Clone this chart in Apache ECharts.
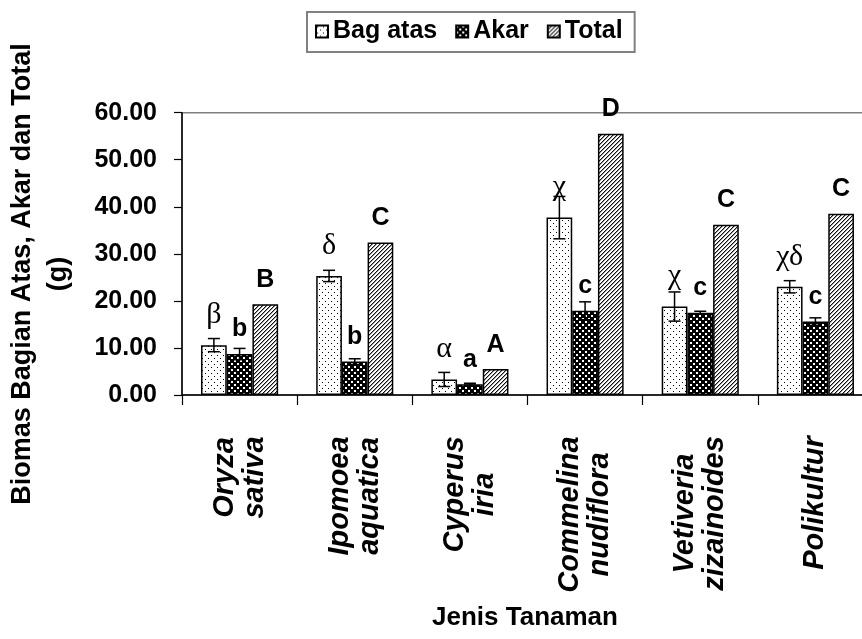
<!DOCTYPE html>
<html>
<head>
<meta charset="utf-8">
<script src="https://cdn.jsdelivr.net/npm/echarts@6/dist/echarts.min.js"></script>
<style>
  html, body { margin: 0; padding: 0; background: #fff; }
  #chart { width: 862px; height: 639px; }
</style>
</head>
<body>
<div id="chart"></div>
<script>
// Plant species (two-line, italic) on the category axis
const categories = ['Oryza\nsativa', 'Ipomoea\naquatica', 'Cyperus\niria', 'Commelina\nnudiflora', 'Vetiveria\nzizainoides', 'Polikultur'];

// Biomass in grams
const bagAtas    = [10.6, 25.3, 3.3, 37.7, 18.8, 23.0];
const bagAtasErr = [1.4, 1.2, 1.5, 4.5, 3.1, 1.3];
const akar       = [8.7, 7.1, 2.3, 17.9, 17.5, 15.6];
const akarErr    = [1.2, 0.6, 0.2, 1.9, 0.3, 0.8];
const total      = [19.3, 32.4, 5.5, 55.5, 36.2, 38.5];

// Significance letters above the bars
const bagAtasLetters = ['β', 'δ', 'α', 'χ', 'χ', 'χδ'];
const akarLetters    = ['b', 'b', 'a', 'c', 'c', 'c'];
const totalLetters   = ['B', 'C', 'A', 'D', 'C', 'C'];

// Y axis ticks
const yMin = 0, yMax = 60, yStep = 10;

const SANS = '"Liberation Sans", Arial, sans-serif';
const SERIF = '"Liberation Serif", "Times New Roman", serif';
const BAR_W = 25.7;

// ---- fill patterns drawn on small tiles ----
function tile(size, draw) {
  const c = document.createElement('canvas');
  c.width = c.height = size;
  const g = c.getContext('2d');
  g.fillStyle = '#fff';
  g.fillRect(0, 0, size, size);
  draw(g, size);
  return c;
}
const dotTile = tile(6, g => {
  g.fillStyle = '#000';
  g.fillRect(1, 1, 1, 1);
  g.fillRect(4, 4, 1, 1);
});
const checkTile = tile(6, g => {
  g.fillStyle = '#000';
  g.fillRect(0, 0, 6, 6);
  g.fillStyle = '#fff';
  g.fillRect(0, 0, 2, 2);
  g.fillRect(3, 3, 2, 2);
});
const hatchTile = tile(4, g => {
  for (let i = 0; i < 4; i++) {
    g.fillStyle = '#111';
    g.fillRect(i, 3 - i, 1, 1);
    g.fillStyle = '#999';
    g.fillRect(i, (4 - i) % 4, 1, 1);
  }
});
const dotFill = { image: dotTile, repeat: 'repeat' };
const checkFill = { image: checkTile, repeat: 'repeat' };
const hatchFill = { image: hatchTile, repeat: 'repeat' };

// ---- category labels: lines centred on each other ----
const CAT_FONT_SIZE = 29;
const measureCtx = document.createElement('canvas').getContext('2d');
measureCtx.font = 'italic bold ' + CAT_FONT_SIZE + 'px ' + SANS;
const catRich = {};
categories.forEach((c, i) => {
  const w = Math.max(...c.split('\n').map(s => measureCtx.measureText(s).width));
  catRich['c' + i] = {
    width: Math.ceil(w) + 2,
    align: 'center',
    fontSize: CAT_FONT_SIZE,
    fontWeight: 'bold',
    fontStyle: 'italic',
    fontFamily: SANS,
    color: '#000',
    lineHeight: 30
  };
});

// ---- error bars ----
function errorSeries(name, values, errs, offset) {
  return {
    type: 'custom',
    name: name,
    z: 5,
    encode: { x: 0, y: 1 },
    data: values.map((v, i) => [i, v, errs[i]]),
    renderItem: function (params, api) {
      const i = api.value(0), v = api.value(1), e = api.value(2);
      const x = api.coord([i, v])[0] + offset;
      const yHi = api.coord([i, v + e])[1];
      const yLo = api.coord([i, v - e])[1];
      const cap = 6;
      const style = { stroke: '#000', lineWidth: 1.5 };
      return {
        type: 'group',
        children: [
          { type: 'line', shape: { x1: x, y1: yHi, x2: x, y2: yLo }, style: style },
          { type: 'line', shape: { x1: x - cap, y1: yHi, x2: x + cap, y2: yHi }, style: style },
          { type: 'line', shape: { x1: x - cap, y1: yLo, x2: x + cap, y2: yLo }, style: style }
        ]
      };
    }
  };
}

function barSeries(name, values, fill, letters, labelFont) {
  return {
    type: 'bar',
    name: name,
    data: values,
    barWidth: BAR_W,
    barGap: '0%',
    itemStyle: { color: fill, borderColor: '#000', borderWidth: 1.5 },
    label: Object.assign({
      show: true,
      position: 'top',
      distance: 12,
      color: '#000',
      formatter: p => letters[p.dataIndex]
    }, labelFont)
  };
}

const chart = echarts.init(document.getElementById('chart'), null, { renderer: 'canvas' });
chart.setOption({
  animation: false,
  backgroundColor: '#fff',
  grid: {
    // the plot area runs a little past the right edge of the canvas
    left: 182, width: 691, top: 112.7, height: 282.3,
    outerBoundsMode: 'none',
    containLabel: false,
    show: true, borderColor: '#808080', borderWidth: 1.5, backgroundColor: 'transparent'
  },
  legend: {
    data: ['Bag atas', 'Akar', 'Total'],
    left: 307, top: 12,
    padding: [7, 12, 8, 8],
    borderColor: '#808080', borderWidth: 2,
    itemWidth: 12, itemHeight: 12, itemGap: 18,
    icon: 'rect',
    textStyle: { fontSize: 25, fontWeight: 'bold', fontFamily: SANS, color: '#000' }
  },
  xAxis: {
    type: 'category',
    data: categories,
    boundaryGap: true,
    axisLine: { lineStyle: { color: '#000', width: 1.5 } },
    axisTick: { show: true, length: 10, inside: false, lineStyle: { color: '#000', width: 1.2 } },
    axisLabel: {
      interval: 0,
      rotate: 90,
      margin: 40,
      rich: catRich,
      formatter: (val, idx) => val.split('\n').map(s => '{c' + idx + '|' + s + '}').join('\n')
    }
  },
  yAxis: {
    type: 'value',
    min: yMin, max: yMax, interval: yStep,
    splitLine: { show: false },
    axisLine: { show: true, lineStyle: { color: '#000', width: 1.5 } },
    axisTick: { show: true, length: 8, lineStyle: { color: '#000', width: 1.2 } },
    axisLabel: {
      margin: 25,
      fontSize: 25, fontWeight: 'bold', fontFamily: SANS, color: '#000',
      formatter: v => v.toFixed(2)
    }
  },
  graphic: [
    {
      type: 'text',
      x: 41, y: 274,
      rotation: Math.PI / 2,
      style: {
        text: 'Biomas Bagian Atas, Akar dan Total\n(g)',
        font: 'bold 27px ' + SANS,
        fill: '#000',
        align: 'center',
        verticalAlign: 'middle',
        lineHeight: 36
      }
    },
    {
      type: 'text',
      x: 525, y: 618,
      style: {
        text: 'Jenis Tanaman',
        font: 'bold 26px ' + SANS,
        fill: '#000',
        align: 'center',
        verticalAlign: 'middle'
      }
    }
  ],
  series: [
    barSeries('Bag atas', bagAtas, dotFill, bagAtasLetters, { fontFamily: SERIF, fontSize: 30, distance: 15 }),
    barSeries('Akar', akar, checkFill, akarLetters, { fontFamily: SANS, fontSize: 25, fontWeight: 'bold' }),
    barSeries('Total', total, hatchFill, totalLetters, { fontFamily: SANS, fontSize: 25, fontWeight: 'bold' }),
    errorSeries('Bag atas error', bagAtas, bagAtasErr, -BAR_W),
    errorSeries('Akar error', akar, akarErr, 0)
  ]
});
</script>
</body>
</html>
